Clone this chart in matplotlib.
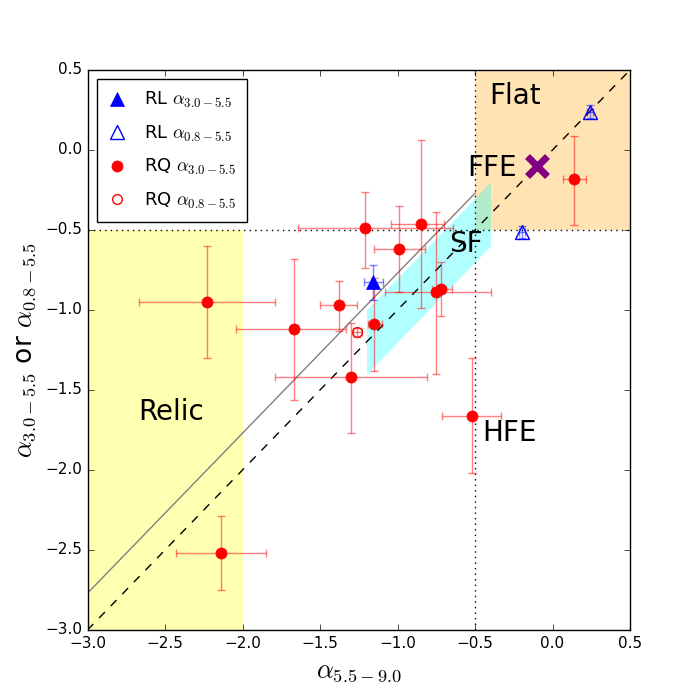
import matplotlib
matplotlib.use("Agg")
import matplotlib.pyplot as plt
import numpy as np

plt.style.use('classic')
plt.rcParams['figure.facecolor'] = 'white'
plt.rcParams['savefig.facecolor'] = 'white'
plt.rcParams['mathtext.fontset'] = 'cm'
plt.rcParams['font.family'] = ['DejaVu Sans']

# RQ alpha_{3.0-5.5}
rq_x = [-1.21, -0.85, -0.99, -0.75, -0.72, -2.23, -1.67, -1.38, -1.15, -1.30, -0.52, -2.14, 0.14]
rq_y = [-0.49, -0.46, -0.62, -0.89, -0.87, -0.95, -1.12, -0.97, -1.09, -1.42, -1.66, -2.52, -0.18]
rq_xerr_lo = [0.43, 0.19, 0.16, 0.33, 0.06, 0.44, 0.37, 0.12, 0.04, 0.49, 0.19, 0.29, 0.075]
rq_xerr_hi = [0.57, 0.15, 0.17, 0.35, 0.07, 0.44, 0.34, 0.12, 0.05, 0.49, 0.19, 0.29, 0.075]
rq_yerr_lo = [0.25, 0.53, 0.27, 0.51, 0.17, 0.35, 0.44, 0.16, 0.29, 0.35, 0.36, 0.23, 0.29]
rq_yerr_hi = [0.23, 0.52, 0.27, 0.50, 0.17, 0.35, 0.44, 0.15, 0.29, 0.34, 0.36, 0.23, 0.27]

# RQ alpha_{0.8-5.5}
rqo_x = [-1.26]
rqo_y = [-1.14]
rqo_xerr = [0.03]
rqo_yerr = [0.03]

# RL alpha_{3.0-5.5}
rl_x = [-1.155]
rl_y = [-0.826]
rl_xerr = [0.06]
rl_yerr = [0.11]

# RL alpha_{0.8-5.5}
rlo_x = [0.244, -0.197]
rlo_y = [0.239, -0.512]
rlo_xerr = [0.02, 0.02]
rlo_yerr = [0.04, 0.04]

# FFE marker
ffe_x = [-0.10]
ffe_y = [-0.10]

# Region labels
region_names = ["Flat", "FFE", "SF", "Relic", "HFE"]
region_x = [-0.41, -0.55, -0.67, -2.67, -0.455]
region_y = [0.29, -0.16, -0.64, -1.69, -1.82]

fig = plt.figure(figsize=(7, 7), dpi=100)
ax = fig.add_axes([0.125, 0.1, 0.775, 0.8])

# shaded regions
ax.fill_between([-3.0, -2.0], -3.0, -0.5, color='yellow', alpha=0.3, lw=0)
ax.fill_between([-0.5, 0.5], -0.5, 0.5, color='orange', alpha=0.3, lw=0)
sfx = np.array([-1.2, -0.4])
ax.fill_between(sfx, sfx - 0.2, sfx + 0.2, color='cyan', alpha=0.3, lw=0)

# reference lines
ax.plot([-3.0, 0.5], [-3.0, 0.5], 'k--', lw=1)
ax.plot([-3.0, -0.5], [-3.0 + 0.23, -0.5 + 0.23], color='gray', lw=1)
ax.axhline(-0.5, color='k', ls=':', lw=1)
ax.axvline(-0.5, color='k', ls=':', lw=1)

ekw = dict(ecolor=(1, 0, 0, 0.5), elinewidth=1, capsize=3, capthick=1)
ax.errorbar(rq_x, rq_y, xerr=[rq_xerr_lo, rq_xerr_hi], yerr=[rq_yerr_lo, rq_yerr_hi],
            fmt='o', color='red', mec='red', ms=8, **ekw, zorder=4)
ax.errorbar(rqo_x, rqo_y, xerr=rqo_xerr, yerr=rqo_yerr, fmt='o', mfc='none', mec='red',
            mew=1, ms=7, **ekw, zorder=4)
bkw = dict(ecolor=(0, 0, 1, 0.5), elinewidth=1, capsize=3, capthick=1)
ax.errorbar(rl_x, rl_y, xerr=rl_xerr, yerr=rl_yerr, fmt='^', color='blue', mec='blue',
            ms=10, **bkw, zorder=5)
ax.errorbar(rlo_x, rlo_y, xerr=rlo_xerr, yerr=rlo_yerr, fmt='^', mfc='none', mec='blue',
            mew=1, ms=10, **bkw, zorder=5)

ax.plot(ffe_x, ffe_y, 'x', color='purple', ms=15, mew=5, zorder=6)

for name, tx, ty in zip(region_names, region_x, region_y):
    ax.text(tx, ty, name, fontsize=20, ha='left', va='baseline')

# legend proxies
h1, = ax.plot([], [], '^', color='blue', mec='blue', ms=10)
h2, = ax.plot([], [], '^', mfc='none', mec='blue', mew=1, ms=10)
h3, = ax.plot([], [], 'o', color='red', mec='red', ms=8)
h4, = ax.plot([], [], 'o', mfc='none', mec='red', mew=1, ms=7)
ax.legend([h1, h2, h3, h4],
          [r'RL $\alpha_{3.0-5.5}$', r'RL $\alpha_{0.8-5.5}$',
           r'RQ $\alpha_{3.0-5.5}$', r'RQ $\alpha_{0.8-5.5}$'],
          loc='upper left', numpoints=1, fontsize=13, fancybox=False,
          borderpad=0.6, labelspacing=0.75, handlelength=1.05,
          handletextpad=1.0, borderaxespad=0.5)

ax.set_xlim(-3.0, 0.5)
ax.set_ylim(-3.0, 0.5)
ticks = [-3.0, -2.5, -2.0, -1.5, -1.0, -0.5, 0.0, 0.5]
ax.set_xticks(ticks)
ax.set_yticks(ticks)
ax.tick_params(labelsize=11)
ax.set_xlabel(r'$\alpha_{5.5-9.0}$', fontsize=19)
ax.set_ylabel(r'$\alpha_{3.0-5.5}$ or $\alpha_{0.8-5.5}$', fontsize=19)

fig.savefig('out.png', dpi=100, facecolor='white')
